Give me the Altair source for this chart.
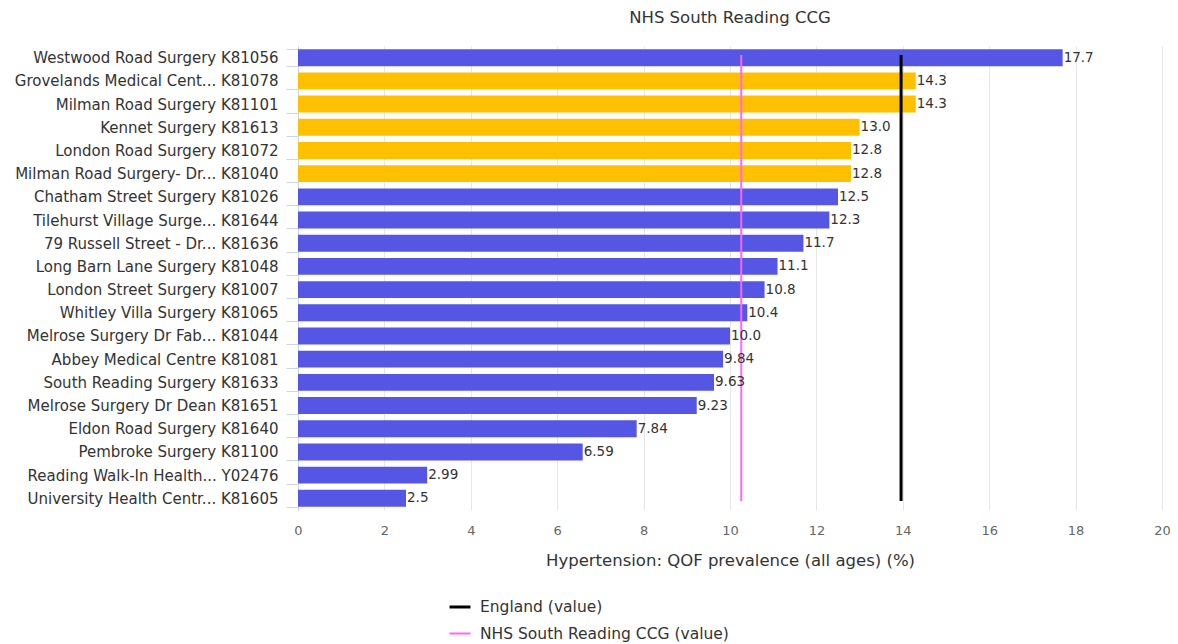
import altair as alt
import pandas as pd

practices = [
    "Westwood Road Surgery K81056",
    "Grovelands Medical Cent... K81078",
    "Milman Road Surgery K81101",
    "Kennet Surgery K81613",
    "London Road Surgery K81072",
    "Milman Road Surgery- Dr... K81040",
    "Chatham Street Surgery K81026",
    "Tilehurst Village Surge... K81644",
    "79 Russell Street - Dr... K81636",
    "Long Barn Lane Surgery K81048",
    "London Street Surgery K81007",
    "Whitley Villa Surgery K81065",
    "Melrose Surgery Dr Fab... K81044",
    "Abbey Medical Centre K81081",
    "South Reading Surgery K81633",
    "Melrose Surgery Dr Dean K81651",
    "Eldon Road Surgery K81640",
    "Pembroke Surgery K81100",
    "Reading Walk-In Health... Y02476",
    "University Health Centr... K81605",
]
values = [17.7, 14.3, 14.3, 13.0, 12.8, 12.8, 12.5, 12.3, 11.7, 11.1,
          10.8, 10.4, 10.0, 9.84, 9.63, 9.23, 7.84, 6.59, 2.99, 2.5]
labels = ["17.7", "14.3", "14.3", "13.0", "12.8", "12.8", "12.5", "12.3", "11.7", "11.1",
          "10.8", "10.4", "10.0", "9.84", "9.63", "9.23", "7.84", "6.59", "2.99", "2.5"]
colors = ["#5656e4", "#ffc000", "#ffc000", "#ffc000", "#ffc000", "#ffc000",
          "#5656e4", "#5656e4", "#5656e4", "#5656e4", "#5656e4", "#5656e4",
          "#5656e4", "#5656e4", "#5656e4", "#5656e4", "#5656e4", "#5656e4",
          "#5656e4", "#5656e4"]

ref_names = ["England (value)", "NHS South Reading CCG (value)"]
ref_values = [13.96, 10.26]
ref_colors = ["#000000", "#ff66ff"]

df = pd.DataFrame({"practice": practices, "value": values, "label": labels, "color": colors})
ref = pd.DataFrame({"name": ref_names, "value": ref_values})

FONT = "DejaVu Sans"

x_scale = alt.Scale(domain=[0, 20], nice=False)
x_axis = alt.Axis(values=list(range(0, 21, 2)), title="Hypertension: QOF prevalence (all ages) (%)",
                  domain=False, ticks=False, grid=True, gridColor="#e6e6e6",
                  labelPadding=14, labelFontSize=13, labelColor="#666666", labelFlush=False,
                  titleFontSize=16.5, titleFontWeight="normal", titleColor="#333333",
                  titlePadding=15, labelFont=FONT, titleFont=FONT)
y_scale = alt.Scale(paddingInner=0.27, paddingOuter=0.14)
y_axis = alt.Axis(title=None, domainColor="#ccd6eb", tickColor="#ccd6eb", tickSize=12,
                  tickBand="extent", labelPadding=8, labelFontSize=15, labelColor="#333333",
                  labelFont=FONT, labelLimit=400, grid=False)

bars = alt.Chart(df).mark_bar().encode(
    y=alt.Y("practice:N", sort=practices, scale=y_scale, axis=y_axis),
    x=alt.X("value:Q", scale=x_scale, axis=x_axis),
    color=alt.Color("color:N", scale=None),
)

text = alt.Chart(df).mark_text(align="left", baseline="middle", dx=1, fontSize=13.5,
                               font=FONT, color="#333333").encode(
    y=alt.Y("practice:N", sort=practices),
    x=alt.X("value:Q"),
    text="label:N",
)

rules = alt.Chart(ref).mark_rule().encode(
    x=alt.X("value:Q"),
    y=alt.value(9),
    y2=alt.value(455),
    color=alt.Color("name:N", scale=alt.Scale(domain=ref_names, range=ref_colors),
                    legend=alt.Legend(title=None, orient="none", legendX=150, legendY=549,
                                      direction="vertical", symbolType="stroke",
                                      symbolStrokeWidth=2.5, symbolSize=440,
                                      labelFontSize=15.5, labelFont=FONT, labelColor="#333333",
                                      labelLimit=500, rowPadding=6, labelOffset=8)),
    strokeWidth=alt.StrokeWidth("name:N", scale=alt.Scale(domain=ref_names, range=[3, 2]),
                                legend=None),
)

chart = alt.layer(bars, rules, text).properties(
    width=864, height=464,
    title=alt.Title("NHS South Reading CCG", fontSize=16.5, font=FONT, fontWeight="normal",
                    color="#333333", offset=13),
    autosize=alt.AutoSizeParams(type="none"),
    padding={"left": 290, "top": 38, "right": 8, "bottom": 134},
).configure_view(stroke=None)

chart.save("out.html", embed_options={"renderer": "svg", "actions": False})
